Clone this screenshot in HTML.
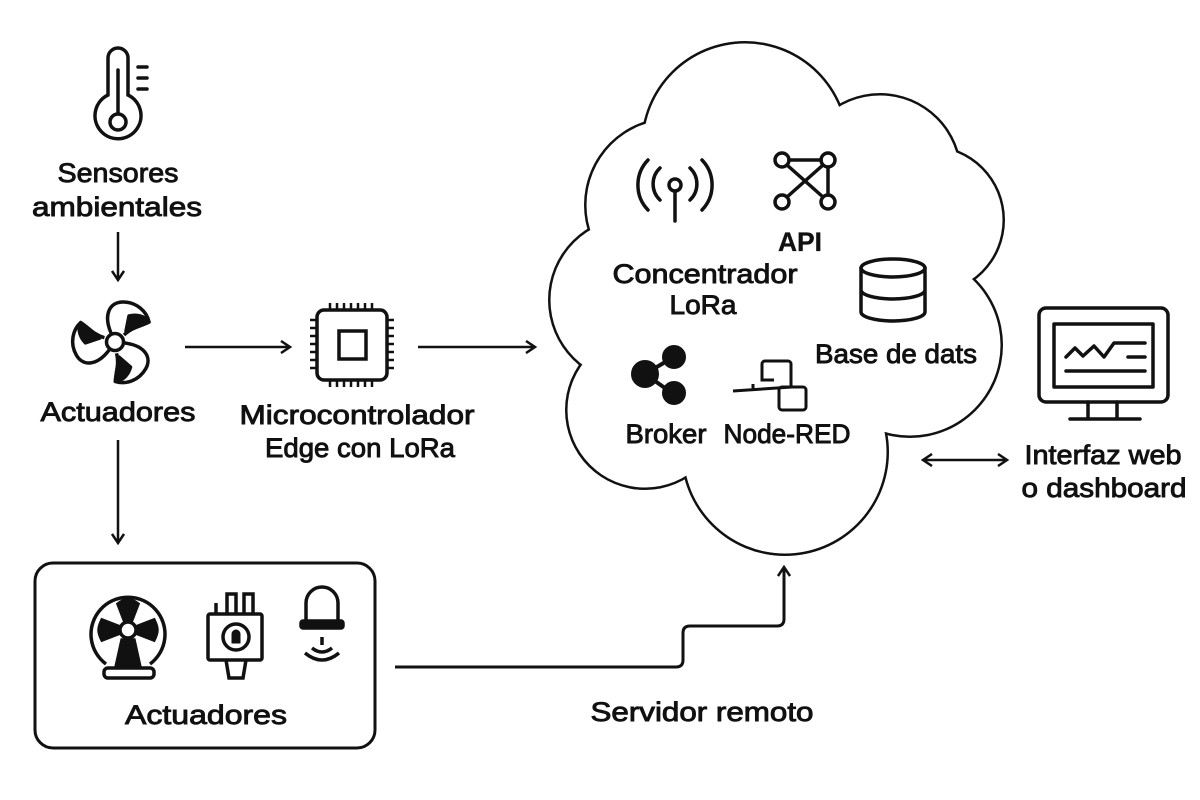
<!DOCTYPE html>
<html><head><meta charset="utf-8"><style>
html,body{margin:0;padding:0;background:#fff;}
svg{display:block;}
text{font-family:"Liberation Sans",sans-serif;fill:#111;stroke:#111;stroke-width:0.9;text-anchor:middle;font-size:27px;}
</style></head><body>
<svg width="1200" height="800" viewBox="0 0 1200 800" xmlns="http://www.w3.org/2000/svg">
<defs>
<marker id="ah" markerWidth="14" markerHeight="14" refX="11" refY="7" orient="auto" markerUnits="userSpaceOnUse">
<path d="M2,1 L11,7 L2,13" fill="none" stroke="#111" stroke-width="2.5"/>
</marker>
<marker id="ahs" markerWidth="14" markerHeight="14" refX="3" refY="7" orient="auto" markerUnits="userSpaceOnUse">
<path d="M12,1 L3,7 L12,13" fill="none" stroke="#111" stroke-width="2.5"/>
</marker>
</defs>
<rect width="1200" height="800" fill="#fff"/>

<!-- Cloud -->
<g fill="#111">
<circle cx="745" cy="145" r="104"/><circle cx="880" cy="175" r="82"/><circle cx="930" cy="220" r="75"/>
<circle cx="910" cy="345" r="93"/><circle cx="785" cy="452" r="104"/><circle cx="645" cy="410" r="80"/>
<circle cx="632" cy="300" r="84"/><circle cx="672" cy="205" r="88"/>
</g>
<g fill="#fff">
<circle cx="745" cy="145" r="101.5"/><circle cx="880" cy="175" r="79.5"/><circle cx="930" cy="220" r="72.5"/>
<circle cx="910" cy="345" r="90.5"/><circle cx="785" cy="452" r="101.5"/><circle cx="645" cy="410" r="77.5"/>
<circle cx="632" cy="300" r="81.5"/><circle cx="672" cy="205" r="85.5"/>
<ellipse cx="775" cy="300" rx="150" ry="170"/>
</g>

<!-- Thermometer -->
<g fill="none" stroke="#111" stroke-width="3.5" stroke-linecap="round">
<path d="M108,95 V58 a10,10 0 0 1 20,0 V95 a23,23 0 1 1 -20,0 Z"/>
<circle cx="118" cy="122" r="8"/>
<line x1="118" y1="70" x2="118" y2="113"/>
<line x1="138" y1="67" x2="147" y2="67"/><line x1="138" y1="78" x2="147" y2="78"/><line x1="138" y1="89" x2="147" y2="89"/>
</g>
<text x="118" y="182" textLength="121" lengthAdjust="spacingAndGlyphs">Sensores</text>
<text x="117" y="216" textLength="170" lengthAdjust="spacingAndGlyphs">ambientales</text>
<line x1="118" y1="232" x2="118" y2="280" stroke="#111" stroke-width="2.5" marker-end="url(#ah)"/>

<!-- Fan -->
<g transform="translate(115,342)" stroke="#111" stroke-width="3.5" stroke-linejoin="round">
<g id="blade"><path d="M-4,-9 C-12,-28 -5,-40 8,-40 C22,-40 32,-30 34,-20 C25,-16 16,-14 9,-7" fill="none"/><path d="M14,-26 C22,-28 30,-26 34,-20 C26,-16 18,-14 11,-11 Z" fill="#111"/></g>
<use href="#blade" transform="rotate(120)"/>
<use href="#blade" transform="rotate(240)"/>
<circle r="8.5" fill="#fff"/>
</g>
<text x="118" y="421" textLength="155" lengthAdjust="spacingAndGlyphs">Actuadores</text>
<line x1="185" y1="347" x2="290" y2="347" stroke="#111" stroke-width="2.5" marker-end="url(#ah)"/>

<!-- Chip -->
<g fill="none" stroke="#111" stroke-width="3.5">
<rect x="317" y="310" width="70" height="70" rx="7"/>
<rect x="339" y="331" width="27" height="28"/>
<g stroke-width="2.5">
<path d="M330,303v7M337,303v7M344,303v7M351,303v7M358,303v7M365,303v7M372,303v7"/>
<path d="M330,380v7M337,380v7M344,380v7M351,380v7M358,380v7M365,380v7M372,380v7"/>
<path d="M310,320h7M310,328h7M310,336h7M310,344h7M310,352h7M310,360h7M310,368h7"/>
<path d="M387,320h7M387,328h7M387,336h7M387,344h7M387,352h7M387,360h7M387,368h7"/>
</g></g>
<text x="357" y="424" textLength="235" lengthAdjust="spacingAndGlyphs">Microcontrolador</text>
<text x="360" y="457" textLength="190" lengthAdjust="spacingAndGlyphs">Edge con LoRa</text>
<line x1="418" y1="347" x2="535" y2="347" stroke="#111" stroke-width="2.5" marker-end="url(#ah)"/>

<line x1="118" y1="440" x2="118" y2="543" stroke="#111" stroke-width="2.5" marker-end="url(#ah)"/>

<!-- Actuator box -->
<rect x="35" y="563" width="340" height="185" rx="18" fill="none" stroke="#111" stroke-width="3"/>
<g stroke="#111" stroke-width="3.5" fill="none">
<path d="M106,664 A37,37 0 1 1 150,664"/>
<rect x="104" y="668" width="50" height="10" rx="4"/>
<path d="M116,667 L122,640 H134 L140,667 Z" fill="#111"/>
<path d="M128,630 L118,604 C126,598 130,598 138,604 Z" fill="#111"/>
<path d="M128,630 L102,620 C98,628 98,632 102,640 Z" fill="#111"/>
<path d="M128,630 L154,620 C158,628 158,632 154,640 Z" fill="#111"/>
<circle cx="128" cy="630" r="8" fill="#fff"/>
<rect x="208" y="614" width="54" height="46" rx="2"/>
<path d="M227,614 V594 H236 V614 M244,614 V594 H253 V614 M216,614 V603"/>
<circle cx="236" cy="637" r="13"/>
<path d="M232,643 V634 a4,4 0 0 1 8,0 V643 Z" fill="#111" stroke-width="1"/>
<path d="M226,660 L229,678 H243 L246,660"/>
<path d="M306,621 V603 a16,16 0 0 1 32,0 V621"/>
<rect x="301" y="621" width="42" height="7" rx="2" fill="#111"/>
<path d="M322,637 V645 M312,648 q10,8 20,0 M305,653 q17,14 34,0"/>
</g>
<text x="206" y="724" textLength="162" lengthAdjust="spacingAndGlyphs">Actuadores</text>

<!-- connector to cloud -->
<path d="M395,667 H676 Q683,667 683,660 V633 Q683,626 690,626 H777 Q784,626 784,619 V567" fill="none" stroke="#111" stroke-width="3" marker-end="url(#ah)"/>
<text x="702" y="721" textLength="223" lengthAdjust="spacingAndGlyphs">Servidor remoto</text>

<!-- Cloud contents -->
<g fill="none" stroke="#111" stroke-width="3.5" stroke-linecap="round">
<circle cx="675" cy="185" r="6"/>
<line x1="675" y1="191" x2="675" y2="221"/>
<path d="M660,168 a22,22 0 0 0 0,32 M690,168 a22,22 0 0 1 0,32"/>
<path d="M648,160 a36,36 0 0 0 0,50 M702,160 a36,36 0 0 1 0,50"/>
<circle cx="782" cy="160" r="7"/><circle cx="828" cy="160" r="7"/><circle cx="782" cy="202" r="7"/><circle cx="828" cy="202" r="7"/>
<path d="M789,160 H821 M828,167 V195 M787,165 L823,197 M823,165 L787,197"/>
<ellipse cx="893" cy="268" rx="32" ry="9"/>
<path d="M861,268 V312 a32,9 0 0 0 64,0 V268 M861,290 a32,9 0 0 0 64,0"/>
</g>
<text x="800" y="251" textLength="44" lengthAdjust="spacingAndGlyphs" style="font-weight:bold;stroke-width:0.3">API</text>
<text x="705" y="283" textLength="185" lengthAdjust="spacingAndGlyphs">Concentrador</text>
<text x="703" y="314" textLength="67" lengthAdjust="spacingAndGlyphs">LoRa</text>
<text x="896" y="363" textLength="162" lengthAdjust="spacingAndGlyphs">Base de dats</text>
<g fill="#111" stroke="#111" stroke-width="4">
<line x1="645" y1="374" x2="672" y2="358"/><line x1="645" y1="374" x2="672" y2="393"/>
<circle cx="645" cy="374" r="12"/><circle cx="674" cy="357" r="10"/><circle cx="674" cy="393" r="10"/>
</g>
<g fill="none" stroke="#111" stroke-width="3">
<path d="M733,391 L792,387 M753,391 V384 M774,380 H762 V364 a3,3 0 0 1 3,-3 H788 a3,3 0 0 1 3,3 V386"/>
<rect x="779" y="387" width="27" height="23" rx="3"/>
</g>
<text x="666" y="443" textLength="81" lengthAdjust="spacingAndGlyphs">Broker</text>
<text x="787" y="443" textLength="127" lengthAdjust="spacingAndGlyphs">Node-RED</text>

<!-- double arrow -->
<line x1="923" y1="460" x2="1007" y2="460" stroke="#111" stroke-width="2.5" marker-end="url(#ah)" marker-start="url(#ahs)"/>

<!-- Monitor -->
<g fill="none" stroke="#111" stroke-width="3.5" stroke-linejoin="round" stroke-linecap="round">
<rect x="1039" y="308" width="129" height="94" rx="7"/>
<rect x="1054" y="324" width="99" height="63"/>
<path d="M1066,357 L1075,348 L1083,356 L1094,346 L1104,357 L1114,343 H1145 M1128,357 H1145 M1066,371 H1145"/>
<path d="M1088,402 V418 M1117,402 V418 M1070,419 H1140"/>
</g>
<text x="1103" y="464" textLength="157" lengthAdjust="spacingAndGlyphs">Interfaz web</text>
<text x="1104" y="497" textLength="165" lengthAdjust="spacingAndGlyphs">o dashboard</text>
</svg>
</body></html>
